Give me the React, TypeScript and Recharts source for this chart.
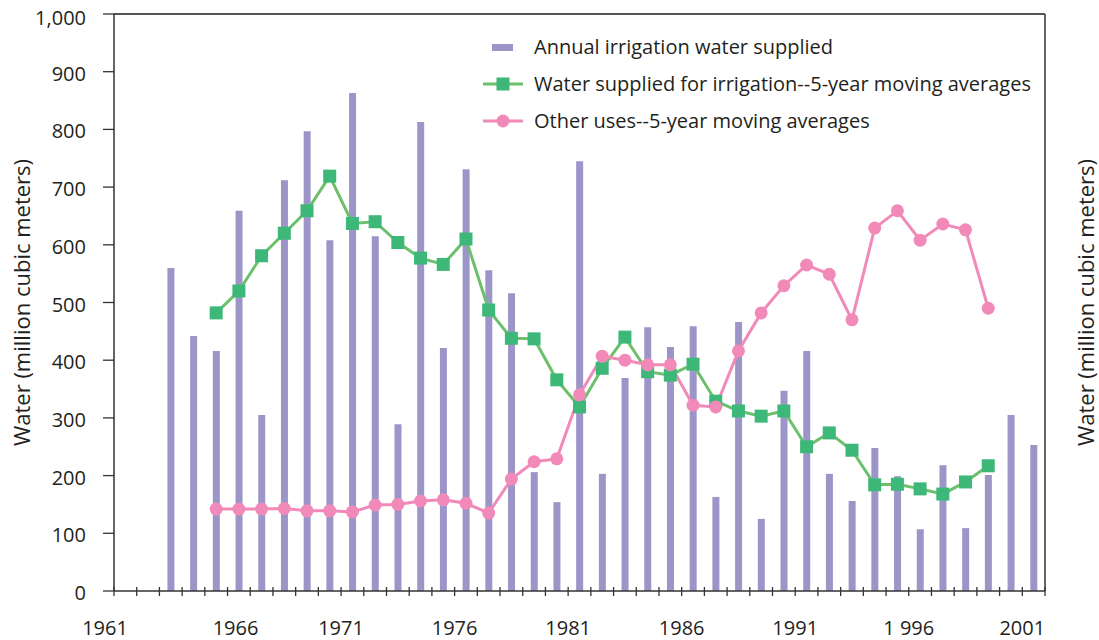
import React from "react";
import {
  ComposedChart,
  Bar,
  Line,
  XAxis,
  YAxis,
  Legend,
  ReferenceLine,
} from "recharts";

const years: number[] = [
  1961, 1962, 1963, 1964, 1965, 1966, 1967, 1968, 1969, 1970, 1971, 1972, 1973, 1974,
  1975, 1976, 1977, 1978, 1979, 1980, 1981, 1982, 1983, 1984, 1985, 1986, 1987, 1988,
  1989, 1990, 1991, 1992, 1993, 1994, 1995, 1996, 1997, 1998, 1999, 2000, 2001,
];

const annualIrrigation: (number | null)[] = [
  null, null, 560, 442, 416, 659, 305, 712, 797, 608, 863, 615, 289, 813,
  421, 731, 556, 516, 206, 154, 745, 203, 369, 457, 423, 459, 163, 466,
  125, 347, 416, 203, 156, 248, 199, 107, 218, 109, 201, 305, 253,
];

const irrigationMovingAvg: (number | null)[] = [
  null, null, null, null, 482, 520, 581, 620, 659, 719, 637, 640, 604, 577,
  566, 610, 487, 438, 437, 366, 319, 386, 440, 380, 374, 393, 329, 312,
  303, 312, 250, 274, 244, 184, 185, 177, 168, 189, 217, null, null,
];

const otherUsesMovingAvg: (number | null)[] = [
  null, null, null, null, 142, 142, 142, 143, 139, 139, 137, 149, 150, 156,
  158, 152, 135, 194, 224, 229, 340, 407, 400, 392, 392, 322, 319, 416,
  482, 529, 565, 549, 470, 629, 659, 608, 636, 626, 490, null, null,
];

const yTicks: number[] = [0, 100, 200, 300, 400, 500, 600, 700, 800, 900, 1000];
const yTickLabels: string[] = ["0", "100", "200", "300", "400", "500", "600", "700", "800", "900", "1,000"];
const xLabelYears: number[] = [1961, 1966, 1971, 1976, 1981, 1986, 1991, 1996, 2001];
const xLabelTexts: string[] = ["1961", "1966", "1971", "1976", "1981", "1986", "1991", "1 996", "2001"];

const legendItems: { label: string; kind: "bar" | "square" | "circle" }[] = [
  { label: "Annual irrigation water supplied", kind: "bar" },
  { label: "Water supplied for irrigation--5-year moving averages", kind: "square" },
  { label: "Other uses--5-year moving averages", kind: "circle" },
];

const yAxisTitle = "Water (million cubic meters)";

const BAR_COLOR = "#9c96c8";
const GREEN_LINE = "#6cc06c";
const GREEN_MARK = "#3db878";
const PINK = "#f28ab9";
const TEXT = "#231f20";
const AXIS = "#333333";
const FONT = "'Open Sans', sans-serif";

const data = years.map((year, i) => ({
  year,
  annual: annualIrrigation[i],
  irrigationAvg: irrigationMovingAvg[i],
  otherAvg: otherUsesMovingAvg[i],
}));

const xBoundaryTicks: number[] = [...years.map((y) => y - 0.5), years[years.length - 1] + 0.5];

const XTick = (props: any) => {
  const { x, y, payload } = props;
  const yr = payload.value + 0.5;
  const idx = xLabelYears.indexOf(yr);
  return (
    <g>
      <line x1={x} x2={x} y1={y - 4} y2={y + 5} stroke={AXIS} strokeWidth={1.3} />
      {idx >= 0 && (
        <text
          x={idx === 0 ? x - 9 : idx === 1 ? x + 8 : x}
          y={y + 44}
          textAnchor="middle"
          fontFamily={FONT}
          fontSize={20}
          fill={TEXT}
        >
          {xLabelTexts[idx]}
        </text>
      )}
    </g>
  );
};

const LeftTick = (props: any) => {
  const { x, y, payload } = props;
  const idx = yTicks.indexOf(payload.value);
  return (
    <g>
      <line x1={x - 11} x2={x} y1={y} y2={y} stroke={AXIS} strokeWidth={1.3} />
      <text
        x={x - 28}
        y={y + (idx === yTicks.length - 1 ? 4 : 2)}
        dy="0.35em"
        textAnchor="end"
        fontFamily={FONT}
        fontSize={20}
        fill={TEXT}
      >
        {yTickLabels[idx]}
      </text>
    </g>
  );
};

const RightTick = (props: any) => {
  const { x, y } = props;
  return <line x1={x - 5} x2={x + 6} y1={y} y2={y} stroke={AXIS} strokeWidth={1.3} />;
};

const SquareDot = (props: any) => {
  const { cx, cy, index } = props;
  if (cx == null || cy == null || props.value == null) return <g key={`sq-${index}`} />;
  return <rect key={`sq-${index}`} x={cx - 6.5} y={cy - 6.5} width={13} height={13} fill={GREEN_MARK} />;
};

const CircleDot = (props: any) => {
  const { cx, cy, index } = props;
  if (cx == null || cy == null || props.value == null) return <g key={`ci-${index}`} />;
  return <circle key={`ci-${index}`} cx={cx} cy={cy} r={6.5} fill={PINK} />;
};

const LegendContent = () => (
  <svg width={600} height={110} style={{ display: "block" }}>
    {legendItems.map((item, i) => {
      const cy = 17 + i * 37;
      return (
        <g key={item.label}>
          {item.kind === "bar" && <rect x={12} y={cy - 3} width={21} height={7} fill={BAR_COLOR} />}
          {item.kind === "square" && (
            <g>
              <line x1={3} x2={43} y1={cy} y2={cy} stroke={GREEN_LINE} strokeWidth={3} />
              <rect x={16.5} y={cy - 6.5} width={13} height={13} fill={GREEN_MARK} />
            </g>
          )}
          {item.kind === "circle" && (
            <g>
              <line x1={3} x2={43} y1={cy} y2={cy} stroke={PINK} strokeWidth={3} />
              <circle cx={23} cy={cy} r={6.5} fill={PINK} />
            </g>
          )}
          <text x={54} y={cy} dy="0.35em" fontFamily={FONT} fontSize={20} fill={TEXT}>
            {item.label}
          </text>
        </g>
      );
    })}
  </svg>
);

const makeTitle = (cx: number) => (props: any) => {
  const vb = props.viewBox || {};
  const cy = (vb.y ?? 14) + (vb.height ?? 577) / 2;
  return (
    <text
      x={cx}
      y={cy}
      transform={`rotate(-90, ${cx}, ${cy})`}
      textAnchor="middle"
      dy="0.35em"
      fontFamily={FONT}
      fontSize={22}
      fill={TEXT}
    >
      {yAxisTitle}
    </text>
  );
};

const LeftTitle = makeTitle(22);
const RightTitle = makeTitle(1086);

export default function App() {
  return (
    <div style={{ position: "absolute", left: 0, top: 0, background: "#fff" }}>
      <ComposedChart
        width={1099}
        height={640}
        data={data}
        margin={{ top: 14, right: 0, bottom: 0, left: 0 }}
      >
        <XAxis
          dataKey="year"
          type="number"
          domain={[1960.5, 2001.5]}
          ticks={xBoundaryTicks}
          interval={0}
          allowDataOverflow
          tickSize={0}
          tickMargin={0}
          tickLine={false}
          axisLine={{ stroke: AXIS, strokeWidth: 1.5 }}
          tick={<XTick />}
          height={49}
        />
        <YAxis
          yAxisId="left"
          domain={[0, 1000]}
          ticks={yTicks}
          interval={0}
          width={114}
          tickSize={0}
          tickMargin={0}
          tickLine={false}
          axisLine={{ stroke: AXIS, strokeWidth: 1.5 }}
          tick={<LeftTick />}
          label={<LeftTitle />}
        />
        <YAxis
          yAxisId="right"
          orientation="right"
          domain={[0, 1000]}
          ticks={yTicks}
          interval={0}
          width={54}
          tickSize={0}
          tickMargin={0}
          tickLine={false}
          axisLine={{ stroke: AXIS, strokeWidth: 1.5 }}
          tick={<RightTick />}
          label={<RightTitle />}
        />
        <ReferenceLine yAxisId="left" y={1000} stroke="#555" strokeWidth={2} />
        <Bar
          yAxisId="left"
          dataKey="annual"
          fill={BAR_COLOR}
          barSize={7}
          isAnimationActive={false}
        />
        <Line
          yAxisId="left"
          dataKey="irrigationAvg"
          stroke={GREEN_LINE}
          strokeWidth={3}
          dot={<SquareDot />}
          activeDot={false}
          isAnimationActive={false}
        />
        <Line
          yAxisId="left"
          dataKey="otherAvg"
          stroke={PINK}
          strokeWidth={3}
          dot={<CircleDot />}
          activeDot={false}
          isAnimationActive={false}
        />
        <Legend
          layout="vertical"
          align="center"
          verticalAlign="middle"
          content={<LegendContent />}
          wrapperStyle={{ position: "absolute", top: 30, left: 480, width: 600, height: 110 }}
        />
      </ComposedChart>
    </div>
  );
}
